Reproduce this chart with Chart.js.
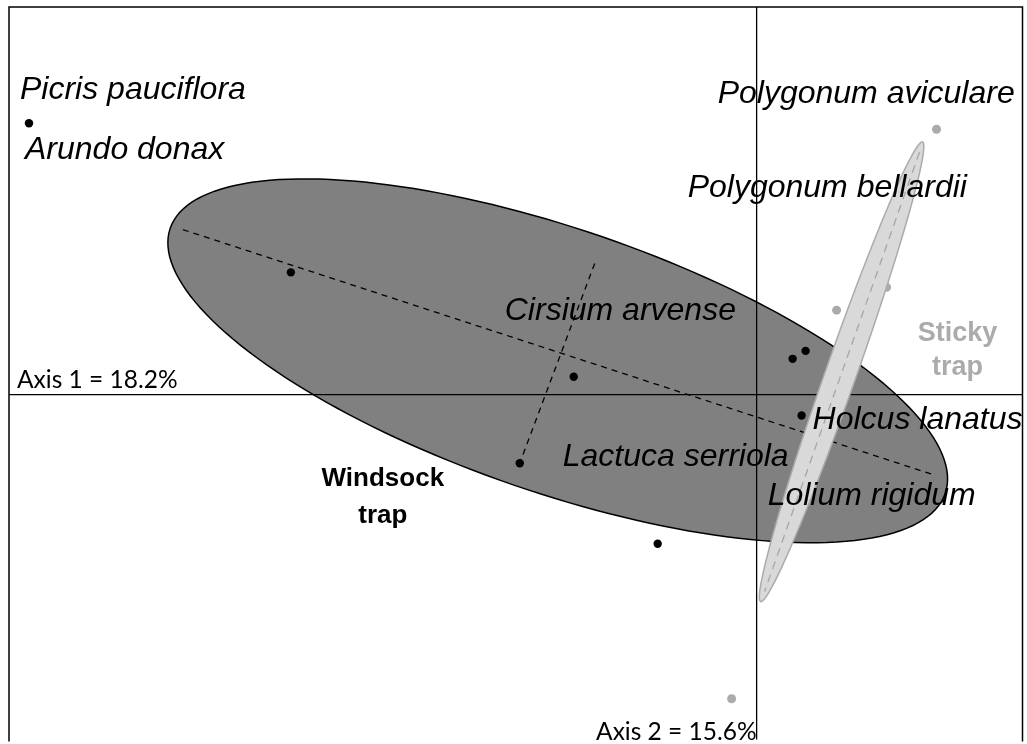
<!DOCTYPE html>
<html>
<head>
<meta charset="utf-8">
<script src="https://cdn.jsdelivr.net/npm/chart.js@4.4.1/dist/chart.umd.min.js"></script>
<style>
  html, body { margin: 0; padding: 0; background: #fff; }
  #wrap { width: 1027px; height: 744px; position: relative; }
</style>
</head>
<body>
<div id="wrap"><canvas id="ordination"></canvas></div>
<script>
/* ─── Data (ordination scores) ─── */
const windsockX = [-2.912, -1.864, -0.732, -0.948, -0.396, 0.144, 0.196, 0.18];
const windsockY = [1.092, 0.492, 0.072, -0.276, -0.6, 0.144, 0.176, -0.084];
const stickyX = [0.72, 0.52, 0.32, -0.1];
const stickyY = [1.068, 0.432, 0.34, -1.224];

const speciesNames = [
  "Picris pauciflora",
  "Arundo donax",
  "Polygonum aviculare",
  "Polygonum bellardii",
  "Cirsium arvense",
  "Lactuca serriola",
  "Holcus lanatus",
  "Lolium rigidum",
];
const speciesLabelX = [-2.948, -2.928, -0.156, -0.276, -1.008, -0.776, 0.224, 0.044];
const speciesLabelY = [1.188, 0.948, 1.172, 0.796, 0.3, -0.288, -0.14, -0.444];

const groupNames = [["Windsock", "trap"], ["Sticky", "trap"]];
const groupLabelX = [-1.496, 0.804];
const groupLabelY = [-0.368, 0.216];

// dispersion ellipses: centre, semi-axes, rotation (deg)
const ellipseCX = [-0.796, 0.34];
const ellipseCY = [0.136, 0.092];
const ellipseA = [1.64, 0.98];
const ellipseB = [0.53, 0.062];
const ellipseAngle = [-19, 70.7];

const windsockMajorX = [-2.296, 0.712];
const windsockMajorY = [0.664, -0.324];
const windsockMinorX = [-0.648, -0.948];
const windsockMinorY = [0.528, -0.276];
const stickyMajorX = [0.652, 0.032];
const stickyMajorY = [0.976, -0.792];

const axisLabels = ["Axis 1 = 18.2%", "Axis 2 = 15.6%"];

const toPoints = (xs, ys) => xs.map((x, i) => ({ x: x, y: ys[i] }));

/* ─── Drawing helpers ─── */
function drawEllipse(chart, i, fill, stroke) {
  const { ctx, scales } = chart;
  const sx = scales.x, sy = scales.y;
  const t = (ellipseAngle[i] * Math.PI) / 180;
  ctx.save();
  ctx.beginPath();
  for (let k = 0; k <= 180; k++) {
    const u = (k / 180) * Math.PI * 2;
    const ex = ellipseA[i] * Math.cos(u), ey = ellipseB[i] * Math.sin(u);
    const dx = ellipseCX[i] + ex * Math.cos(t) - ey * Math.sin(t);
    const dy = ellipseCY[i] + ex * Math.sin(t) + ey * Math.cos(t);
    const px = sx.getPixelForValue(dx), py = sy.getPixelForValue(dy);
    if (k === 0) ctx.moveTo(px, py);
    else ctx.lineTo(px, py);
  }
  ctx.closePath();
  ctx.fillStyle = fill;
  ctx.fill();
  ctx.lineWidth = 1.5;
  ctx.strokeStyle = stroke;
  ctx.stroke();
  ctx.restore();
}

function drawDashed(chart, xs, ys, color, dash) {
  const { ctx, scales } = chart;
  ctx.save();
  ctx.beginPath();
  ctx.setLineDash(dash);
  ctx.lineWidth = 1.3;
  ctx.strokeStyle = color;
  ctx.moveTo(scales.x.getPixelForValue(xs[0]), scales.y.getPixelForValue(ys[0]));
  ctx.lineTo(scales.x.getPixelForValue(xs[1]), scales.y.getPixelForValue(ys[1]));
  ctx.stroke();
  ctx.restore();
}

const ordinationPlugin = {
  id: "ordination",
  beforeDatasetsDraw(chart) {
    const { ctx, chartArea, scales } = chart;
    drawEllipse(chart, 0, "#808080", "#000");
    drawDashed(chart, windsockMajorX, windsockMajorY, "#000", [6, 5]);
    drawDashed(chart, windsockMinorX, windsockMinorY, "#000", [6, 5]);

    // zero axes
    const x0 = scales.x.getPixelForValue(0);
    const y0 = scales.y.getPixelForValue(0);
    ctx.save();
    ctx.lineWidth = 1.3;
    ctx.strokeStyle = "#000";
    ctx.beginPath();
    ctx.moveTo(chartArea.left, y0);
    ctx.lineTo(chartArea.right, y0);
    ctx.moveTo(x0, chartArea.top);
    ctx.lineTo(x0, chartArea.bottom);
    ctx.stroke();
    ctx.restore();
  },
  // sticky points sit under their ellipse, windsock points on top
  beforeDatasetDraw(chart, args) {
    if (args.index === 0) {
      drawEllipse(chart, 1, "#d9d9d9", "#ababab");
      drawDashed(chart, stickyMajorX, stickyMajorY, "#a6a6a6", [8, 6]);
    }
  },
  afterDatasetsDraw(chart) {
    const { ctx, chartArea, scales } = chart;
    const sx = scales.x, sy = scales.y;
    ctx.save();

    // species names
    ctx.font = "italic 32px 'Liberation Sans', Arial, sans-serif";
    ctx.fillStyle = "#000";
    ctx.textAlign = "left";
    ctx.textBaseline = "alphabetic";
    speciesNames.forEach((name, i) => {
      ctx.fillText(name, sx.getPixelForValue(speciesLabelX[i]), sy.getPixelForValue(speciesLabelY[i]));
    });

    // group names
    ctx.textAlign = "center";
    groupNames.forEach((lines, i) => {
      ctx.font = i === 0
        ? "bold 26px 'Liberation Sans', Arial, sans-serif"
        : "bold 27px 'Liberation Sans', Arial, sans-serif";
      ctx.fillStyle = i === 0 ? "#000" : "#ababab";
      const gap = i === 0 ? 37 : 34;
      lines.forEach((line, j) => {
        ctx.fillText(line, sx.getPixelForValue(groupLabelX[i]), sy.getPixelForValue(groupLabelY[i]) + j * gap);
      });
    });

    // axis titles
    const x0 = sx.getPixelForValue(0);
    const y0 = sy.getPixelForValue(0);
    ctx.font = "24.5px Lato, 'Open Sans', sans-serif";
    ctx.fillStyle = "#000";
    ctx.textAlign = "left";
    ctx.fillText(axisLabels[0], chartArea.left + 8, y0 - 7);
    ctx.textAlign = "right";
    ctx.fillText(axisLabels[1], x0, chartArea.bottom);

    // frame (left, top, right)
    ctx.lineWidth = 1.5;
    ctx.strokeStyle = "#000";
    ctx.beginPath();
    ctx.moveTo(chartArea.left, chartArea.bottom + 2);
    ctx.lineTo(chartArea.left, chartArea.top);
    ctx.lineTo(chartArea.right, chartArea.top);
    ctx.lineTo(chartArea.right, chartArea.bottom + 2);
    ctx.stroke();
    ctx.restore();
  },
};

/* ─── Chart ─── */
const ctx = document.getElementById("ordination");
new Chart(ctx, {
  type: "scatter",
  data: {
    datasets: [
      {
        label: "Windsock trap",
        data: toPoints(windsockX, windsockY),
        backgroundColor: "#000",
        borderWidth: 0,
        pointRadius: 4.2,
      },
      {
        label: "Sticky trap",
        data: toPoints(stickyX, stickyY),
        backgroundColor: "#ababab",
        borderWidth: 0,
        pointRadius: 4.5,
      },
    ],
  },
  options: {
    responsive: true,
    maintainAspectRatio: false,
    animation: false,
    layout: { padding: { left: 9, top: 7, right: 4, bottom: 0 } },
    plugins: {
      legend: { display: false },
      tooltip: { enabled: false },
    },
    scales: {
      x: { type: "linear", min: -2.992, max: 1.064, display: false, grid: { display: false } },
      y: { type: "linear", min: -1.388, max: 1.56, display: false, grid: { display: false } },
    },
  },
  plugins: [ordinationPlugin],
});
</script>
</body>
</html>
